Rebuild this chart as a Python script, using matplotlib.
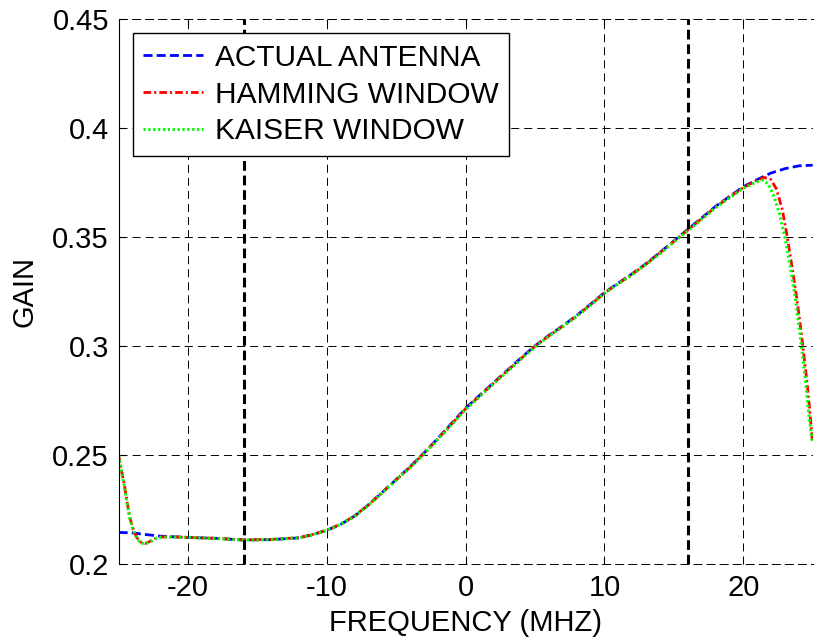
import numpy as np
import matplotlib
matplotlib.use('Agg')
import matplotlib.pyplot as plt

plt.rcParams['font.family'] = ['Liberation Sans', 'DejaVu Sans']
plt.rcParams['lines.scale_dashes'] = False
plt.rcParams['axes.unicode_minus'] = False

# ---- data ----
actual_x = [-25, -24, -23, -22, -21, -20, -18, -16, -14, -12, -11, -10, -9, -8, -7, -6, -5, -4,
            -3, -2, -1, 0, 1, 2, 3, 4, 5, 6, 7, 8, 9, 10, 11, 12, 13, 14, 15, 16, 17, 18,
            19, 20, 21, 22, 23, 24, 25]
actual_gain = [0.2145, 0.2143, 0.2135, 0.2128, 0.2125, 0.2122, 0.2118, 0.2110, 0.2112, 0.2120,
               0.2135, 0.2155, 0.2182, 0.2220, 0.2272, 0.2330, 0.2388, 0.2447,
               0.2510, 0.2577, 0.2647, 0.2716, 0.2774, 0.2832, 0.2889, 0.2947, 0.3002, 0.3050,
               0.3094, 0.3141, 0.3193, 0.3246, 0.3290, 0.3333, 0.3379, 0.3431, 0.3483, 0.3536,
               0.3589, 0.3642, 0.3687, 0.3732, 0.3765, 0.3795, 0.3815, 0.3828, 0.3831]

hamming_x = [-25, -24.8, -24.6, -24.4, -24.2, -24, -23.7, -23.4, -23.1, -22.7, -22.3, -22, -21,
             -20, -18, -16, -14, -12, -11, -10, -9, -8, -7, -6, -5, -4, -3, -2, -1, 0, 1, 2, 3,
             4, 5, 6, 7, 8, 9, 10, 11, 12, 13, 14, 15, 16, 17, 18, 19, 20, 21, 21.5, 22, 22.4,
             22.8, 23.15, 23.5, 23.87, 24.1, 24.35, 24.6, 24.8, 24.97]
hamming_gain = [0.2500, 0.2430, 0.2368, 0.2290, 0.2214, 0.2170, 0.2122, 0.2100, 0.2094, 0.2105,
                0.2119, 0.2124, 0.2125, 0.2122, 0.2118, 0.2111, 0.2113, 0.2121, 0.2136, 0.2156,
                0.2183, 0.2221, 0.2272, 0.2329, 0.2387, 0.2445, 0.2508, 0.2575, 0.2644, 0.2713,
                0.2771, 0.2830, 0.2887, 0.2944, 0.3000, 0.3048, 0.3092, 0.3139, 0.3191, 0.3244,
                0.3288, 0.3331, 0.3377, 0.3429, 0.3481, 0.3533, 0.3586, 0.3639, 0.3684, 0.3728,
                0.3762, 0.3775, 0.3765, 0.3720, 0.3630, 0.3510, 0.3370, 0.3215, 0.3100, 0.2970,
                0.2830, 0.2700, 0.2570]

kaiser_x = [-25, -24.8, -24.6, -24.4, -24.2, -24, -23.7, -23.4, -23.1, -22.7, -22.3, -22, -21,
            -20, -18, -16, -14, -12, -11, -10, -9, -8, -7, -6, -5, -4, -3, -2, -1, 0, 1, 2, 3,
            4, 5, 6, 7, 8, 9, 10, 11, 12, 13, 14, 15, 16, 17, 18, 19, 20, 21, 21.4, 21.8, 22.2,
            22.6, 23.0, 23.4, 23.75, 24.0, 24.25, 24.5, 24.7, 24.97]
kaiser_gain = [0.2500, 0.2425, 0.2360, 0.2285, 0.2210, 0.2165, 0.2118, 0.2097, 0.2092, 0.2103,
               0.2118, 0.2123, 0.2124, 0.2122, 0.2117, 0.2110, 0.2112, 0.2120, 0.2135, 0.2155,
               0.2182, 0.2219, 0.2270, 0.2327, 0.2385, 0.2443, 0.2505, 0.2572, 0.2641, 0.2710,
               0.2768, 0.2827, 0.2884, 0.2941, 0.2998, 0.3046, 0.3090, 0.3137, 0.3189, 0.3242,
               0.3286, 0.3329, 0.3375, 0.3426, 0.3478, 0.3530, 0.3583, 0.3636, 0.3681, 0.3725,
               0.3755, 0.3762, 0.3745, 0.3690, 0.3610, 0.3500, 0.3360, 0.3220, 0.3100, 0.2970,
               0.2830, 0.2700, 0.2560]

band_edges = [-16, 16]
x_ticks = [-20, -10, 0, 10, 20]
y_ticks = [0.2, 0.25, 0.3, 0.35, 0.4, 0.45]
y_tick_labels = ['0.2', '0.25', '0.3', '0.35', '0.4', '0.45']

fs = 21
grid_dash = (0, (5.8, 3.6))

fig = plt.figure(figsize=(8.17, 6.41), dpi=100)
ax = fig.add_axes([0.1452, 0.1201, 0.9947 - 0.1452, 0.9696 - 0.1201])

ax.plot(actual_x, actual_gain, color=(0, 0, 1), lw=2, linestyle=(0, (6.5, 3)),
        label='ACTUAL ANTENNA')
ax.plot(hamming_x, hamming_gain, color=(1, 0, 0), lw=2, linestyle=(0, (5.5, 2.2, 1.5, 2.2)),
        label='HAMMING WINDOW')
ax.plot(kaiser_x, kaiser_gain, color=(0, 1, 0), lw=2.2, linestyle=(0, (1.6, 1.9)),
        label='KAISER WINDOW')

for xe in band_edges:
    ax.axvline(xe, color='black', lw=2.2, linestyle=(0, (7, 3.5)))

ax.set_xlim(-25, 25)
ax.set_ylim(0.2, 0.45)
ax.set_xticks(x_ticks)
ax.set_yticks(y_ticks)
ax.set_yticklabels(y_tick_labels)
ax.tick_params(direction='in', length=4, width=0.8, labelsize=fs, pad=7,
               top=True, right=False)
ax.grid(True, color='black', lw=0.7, linestyle=grid_dash)

for side in ['top', 'bottom']:
    ax.spines[side].set_linestyle(grid_dash)
    ax.spines[side].set_linewidth(0.7)
ax.spines['right'].set_visible(False)
ax.spines['left'].set_linewidth(0.8)

ax.set_xlabel('FREQUENCY (MHZ)', fontsize=fs, labelpad=5)
ax.set_ylabel('GAIN', fontsize=fs, labelpad=10)

leg = ax.legend(loc='upper left', bbox_to_anchor=(0.0207, 0.975), borderaxespad=0,
                fontsize=21.5, fancybox=False, framealpha=1, edgecolor='black',
                handlelength=2.0, handletextpad=0.4, labelspacing=0.3, borderpad=0.35)
leg.get_frame().set_linewidth(1.0)

plt.savefig('out.png', dpi=100)
plt.close()
